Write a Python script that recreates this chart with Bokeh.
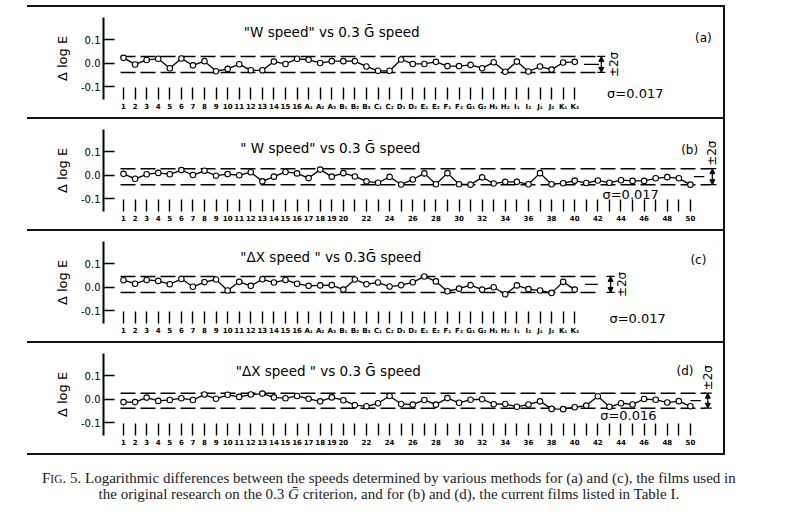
import math
from bokeh.plotting import figure
from bokeh.models import (Range1d, FixedTicker, NumeralTickFormatter, Label, Arrow,
                          NormalHead, Div, Spacer)
from bokeh.layouts import column, row
from bokeh.embed import file_html
from bokeh.resources import INLINE

# ---------------- data ----------------
labels_40 = ["1", "2", "3", "4", "5", "6", "7", "8", "9", "10", "11", "12", "13", "14", "15", "16",
             "A₁", "A₂", "A₃", "B₁", "B₂", "B₃", "C₁", "C₂", "D₁", "D₂", "E₁", "E₂",
             "F₁", "F₂", "G₁", "G₂", "H₁", "H₂", "I₁", "I₂", "J₁", "J₂", "K₁", "K₂"]
labels_50 = [str(i) if (i <= 20 or i % 2 == 0) else "" for i in range(1, 51)]

vals_a = [0.024, -0.004, 0.015, 0.020, -0.020, 0.021, -0.008, 0.010, -0.033, -0.023,
          -0.003, -0.029, -0.029, 0.008, -0.002, 0.020, 0.016, 0.002, 0.010, 0.010,
          0.010, -0.013, -0.031, -0.031, 0.017, -0.002, -0.002, 0.007, -0.011, -0.011,
          -0.006, -0.020, 0.005, -0.035, 0.008, -0.034, -0.013, -0.026, 0.004, 0.007]
vals_b = [0.007, -0.014, 0.005, 0.011, 0.005, 0.023, 0.002, 0.020, -0.001, 0.006,
          0.001, 0.014, -0.025, -0.005, 0.015, 0.009, -0.011, 0.025, -0.005, 0.010,
          -0.004, -0.025, -0.031, -0.006, -0.038, -0.017, 0.009, -0.037, 0.010, -0.037,
          -0.039, -0.008, -0.034, -0.027, -0.027, -0.037, 0.010, -0.037, -0.033, -0.022,
          -0.032, -0.021, -0.031, -0.020, -0.023, -0.023, -0.012, -0.007, -0.012, -0.039]
vals_c = [0.031, 0.016, 0.032, 0.028, 0.014, 0.036, 0.003, 0.023, 0.034, -0.013,
          0.024, 0.007, 0.035, 0.021, 0.032, 0.016, 0.007, 0.009, 0.010, -0.009,
          0.034, 0.014, 0.021, 0.004, 0.010, 0.022, 0.047, 0.026, -0.016, -0.005,
          0.010, -0.009, 0.001, -0.029, 0.009, -0.007, -0.013, -0.023, 0.024, -0.009]
vals_d = [-0.011, -0.011, 0.008, -0.006, -0.002, 0.005, -0.002, 0.021, 0.003, 0.020,
          0.011, 0.021, 0.025, 0.009, 0.005, 0.015, 0.003, -0.008, 0.009, -0.003,
          -0.024, -0.029, -0.016, 0.015, -0.019, -0.022, -0.002, -0.022, 0.006, -0.014,
          -0.001, 0.001, -0.020, -0.019, -0.031, -0.021, -0.008, -0.040, -0.041, -0.033,
          -0.026, 0.014, -0.031, -0.016, -0.021, 0.002, -0.001, -0.013, -0.007, -0.029]

means = [-0.004, -0.005, 0.013, -0.005]
sigmas = [0.017, 0.017, 0.017, 0.016]
titles = ['"W speed"  vs  0.3 Ḡ speed', '" W speed"  vs  0.3 Ḡ speed',
          '"ΔX speed "  vs  0.3Ḡ speed', '"ΔX speed "  vs  0.3 Ḡ speed']
letters = ["(a)", "(b)", "(c)", "(d)"]

FONT = "DejaVu Sans"
FIG_W, FIG_H = 723, 110
BORDER_L = 103
X0, X1 = -1.73, 51.86
Y0, Y1 = -0.1532, 0.1957

# per-panel layout (index units / value units)
layout = [
    dict(title=(10.4, 0.132), letter=(49.4, 0.110), sig=(41.8, -0.128), dash_end=40.8,
         mean_seg=(39.8, 41.1), arrow_x=41.3, pm=(42.4, "side")),
    dict(title=(10.1, 0.119), letter=(48.2, 0.110), sig=(41.4, -0.080), dash_end=50.7,
         mean_seg=(49.3, 50.2), arrow_x=50.9, pm=(50.9, "top")),
    dict(title=(10.1, 0.128), letter=(49.0, 0.115), sig=(42.0, -0.134), dash_end=41.1,
         mean_seg=(39.9, 41.0), arrow_x=42.1, pm=(43.1, "side")),
    dict(title=(9.7, 0.123), letter=(47.8, 0.123), sig=(41.2, -0.068), dash_end=50.3,
         mean_seg=(49.0, 49.9), arrow_x=50.5, pm=(50.5, "top")),
]


def make_panel(vals, labels, mean, sigma, title, letter, lay):
    n = len(vals)
    xs = list(range(n))
    p = figure(width=FIG_W, height=FIG_H, output_backend="svg", toolbar_location=None,
               x_range=Range1d(X0, X1), y_range=Range1d(Y0, Y1),
               min_border_left=BORDER_L, min_border_right=0,
               min_border_top=10, min_border_bottom=18, margin=0)
    p.outline_line_color = None
    p.background_fill_color = "white"
    p.border_fill_color = "white"
    p.grid.visible = False

    # x axis: vertical bars with category labels
    xa = p.xaxis[0]
    xa.ticker = FixedTicker(ticks=xs, minor_ticks=[])
    xa.major_label_overrides = {i: labels[i] for i in xs}
    xa.axis_line_color = None
    xa.major_tick_in = 12
    xa.major_tick_out = 0
    xa.major_tick_line_width = 1.4
    xa.major_tick_line_color = "black"
    xa.major_label_standoff = 3
    xa.major_label_text_font = FONT
    xa.major_label_text_font_size = "7px"
    xa.major_label_text_font_style = "bold"
    xa.major_label_text_color = "black"

    ya = p.yaxis[0]
    ya.ticker = FixedTicker(ticks=[-0.1, 0.0, 0.1], minor_ticks=[])
    ya.formatter = NumeralTickFormatter(format="0.0")
    ya.axis_line_width = 2
    ya.axis_line_color = "black"
    ya.major_tick_in = 11
    ya.major_tick_out = 0
    ya.major_tick_line_width = 1.5
    ya.major_label_standoff = 3
    ya.major_label_text_font = FONT
    ya.major_label_text_font_size = "10px"
    ya.major_label_text_color = "black"
    ya.axis_label = "Δ log E"
    ya.axis_label_text_font = FONT
    ya.axis_label_text_font_size = "13px"
    ya.axis_label_text_font_style = "normal"
    ya.axis_label_standoff = 8
    ya.axis_label_text_color = "black"

    upper = mean + 2 * sigma
    lower = mean - 2 * sigma
    dash_start = -0.26
    p.segment(x0=[dash_start, dash_start], x1=[lay["dash_end"]] * 2,
              y0=[upper, lower], y1=[upper, lower],
              line_color="black", line_width=1.5, line_dash="15 5")
    p.segment(x0=[lay["mean_seg"][0]], x1=[lay["mean_seg"][1]], y0=[mean], y1=[mean],
              line_color="black", line_width=1.3)
    ax = lay["arrow_x"]
    p.add_layout(Arrow(x_start=ax, y_start=mean, x_end=ax, y_end=upper,
                       end=NormalHead(size=5, fill_color="black", line_color="black"),
                       line_width=1.3, line_color="black"))
    p.add_layout(Arrow(x_start=ax, y_start=mean, x_end=ax, y_end=lower,
                       end=NormalHead(size=5, fill_color="black", line_color="black"),
                       line_width=1.3, line_color="black"))
    p.segment(x0=[ax - 0.35, ax - 0.35], x1=[ax + 0.35, ax + 0.35], y0=[upper, lower],
              y1=[upper, lower], line_color="black", line_width=1.3)
    px, mode = lay["pm"]
    if mode == "side":
        p.add_layout(Label(x=px, y=mean, text="±2σ", angle=math.pi / 2, text_align="center",
                           text_baseline="middle", text_font=FONT, text_font_size="12px",
                           text_color="black"))
    else:
        p.add_layout(Label(x=px, y=upper + 0.012, text="±2σ", angle=math.pi / 2,
                           text_align="left", text_baseline="middle", text_font=FONT,
                           text_font_size="12px", text_color="black"))

    p.line(xs, vals, line_color="black", line_width=1.3)
    p.scatter(xs, vals, size=5.5, marker="circle", fill_color="white", line_color="black",
              line_width=1.1)

    tx, ty = lay["title"]
    p.add_layout(Label(x=tx, y=ty, text=title, text_font=FONT, text_font_size="13.5px",
                       text_baseline="middle", text_color="black"))
    lx, ly = lay["letter"]
    p.add_layout(Label(x=lx, y=ly, text=letter, text_font=FONT, text_font_size="12px",
                       text_baseline="middle", text_color="black"))
    sx, sy = lay["sig"]
    p.add_layout(Label(x=sx, y=sy, text="σ=%.3f" % sigma, text_font=FONT,
                       text_font_size="13px", text_baseline="middle", text_color="black"))
    return p


def hline():
    return row(Spacer(width=27, height=2, margin=0),
               Div(text="", width=698, height=2, margin=0,
                   styles={"background-color": "#111"}), margin=0)


def vline():
    return Div(text="", width=2, height=FIG_H, margin=0, styles={"background-color": "#111"})


series = [vals_a, vals_b, vals_c, vals_d]
labs = [labels_40, labels_50, labels_40, labels_50]
items = [Spacer(width=10, height=5, margin=0)]
for k in range(4):
    items.append(hline())
    pnl = make_panel(series[k], labs[k], means[k], sigmas[k], titles[k], letters[k], layout[k])
    items.append(row(pnl, vline(), margin=0))
items.append(hline())

caption_html = (
    '<div style="font-family: \'Liberation Serif\', serif; font-size: 15px; line-height: 15px; '
    'text-align: center; white-space: nowrap; color: #222; padding-top: 16px;">'
    'F<span style="font-size: 11.5px;">IG</span>. 5. Logarithmic differences between the speeds '
    'determined by various methods for (a) and (c), the films used in<br>'
    'the original research on the 0.3 <i>Ḡ</i> criterion, and for (b) and (d), the current '
    'films listed in Table I.</div>'
)
items.append(row(Spacer(width=42, height=10, margin=0),
                 Div(text=caption_html, width=700, height=44, margin=0), margin=0))

root = column(*items, margin=0)
open("out.html", "w").write(file_html(root, INLINE))
